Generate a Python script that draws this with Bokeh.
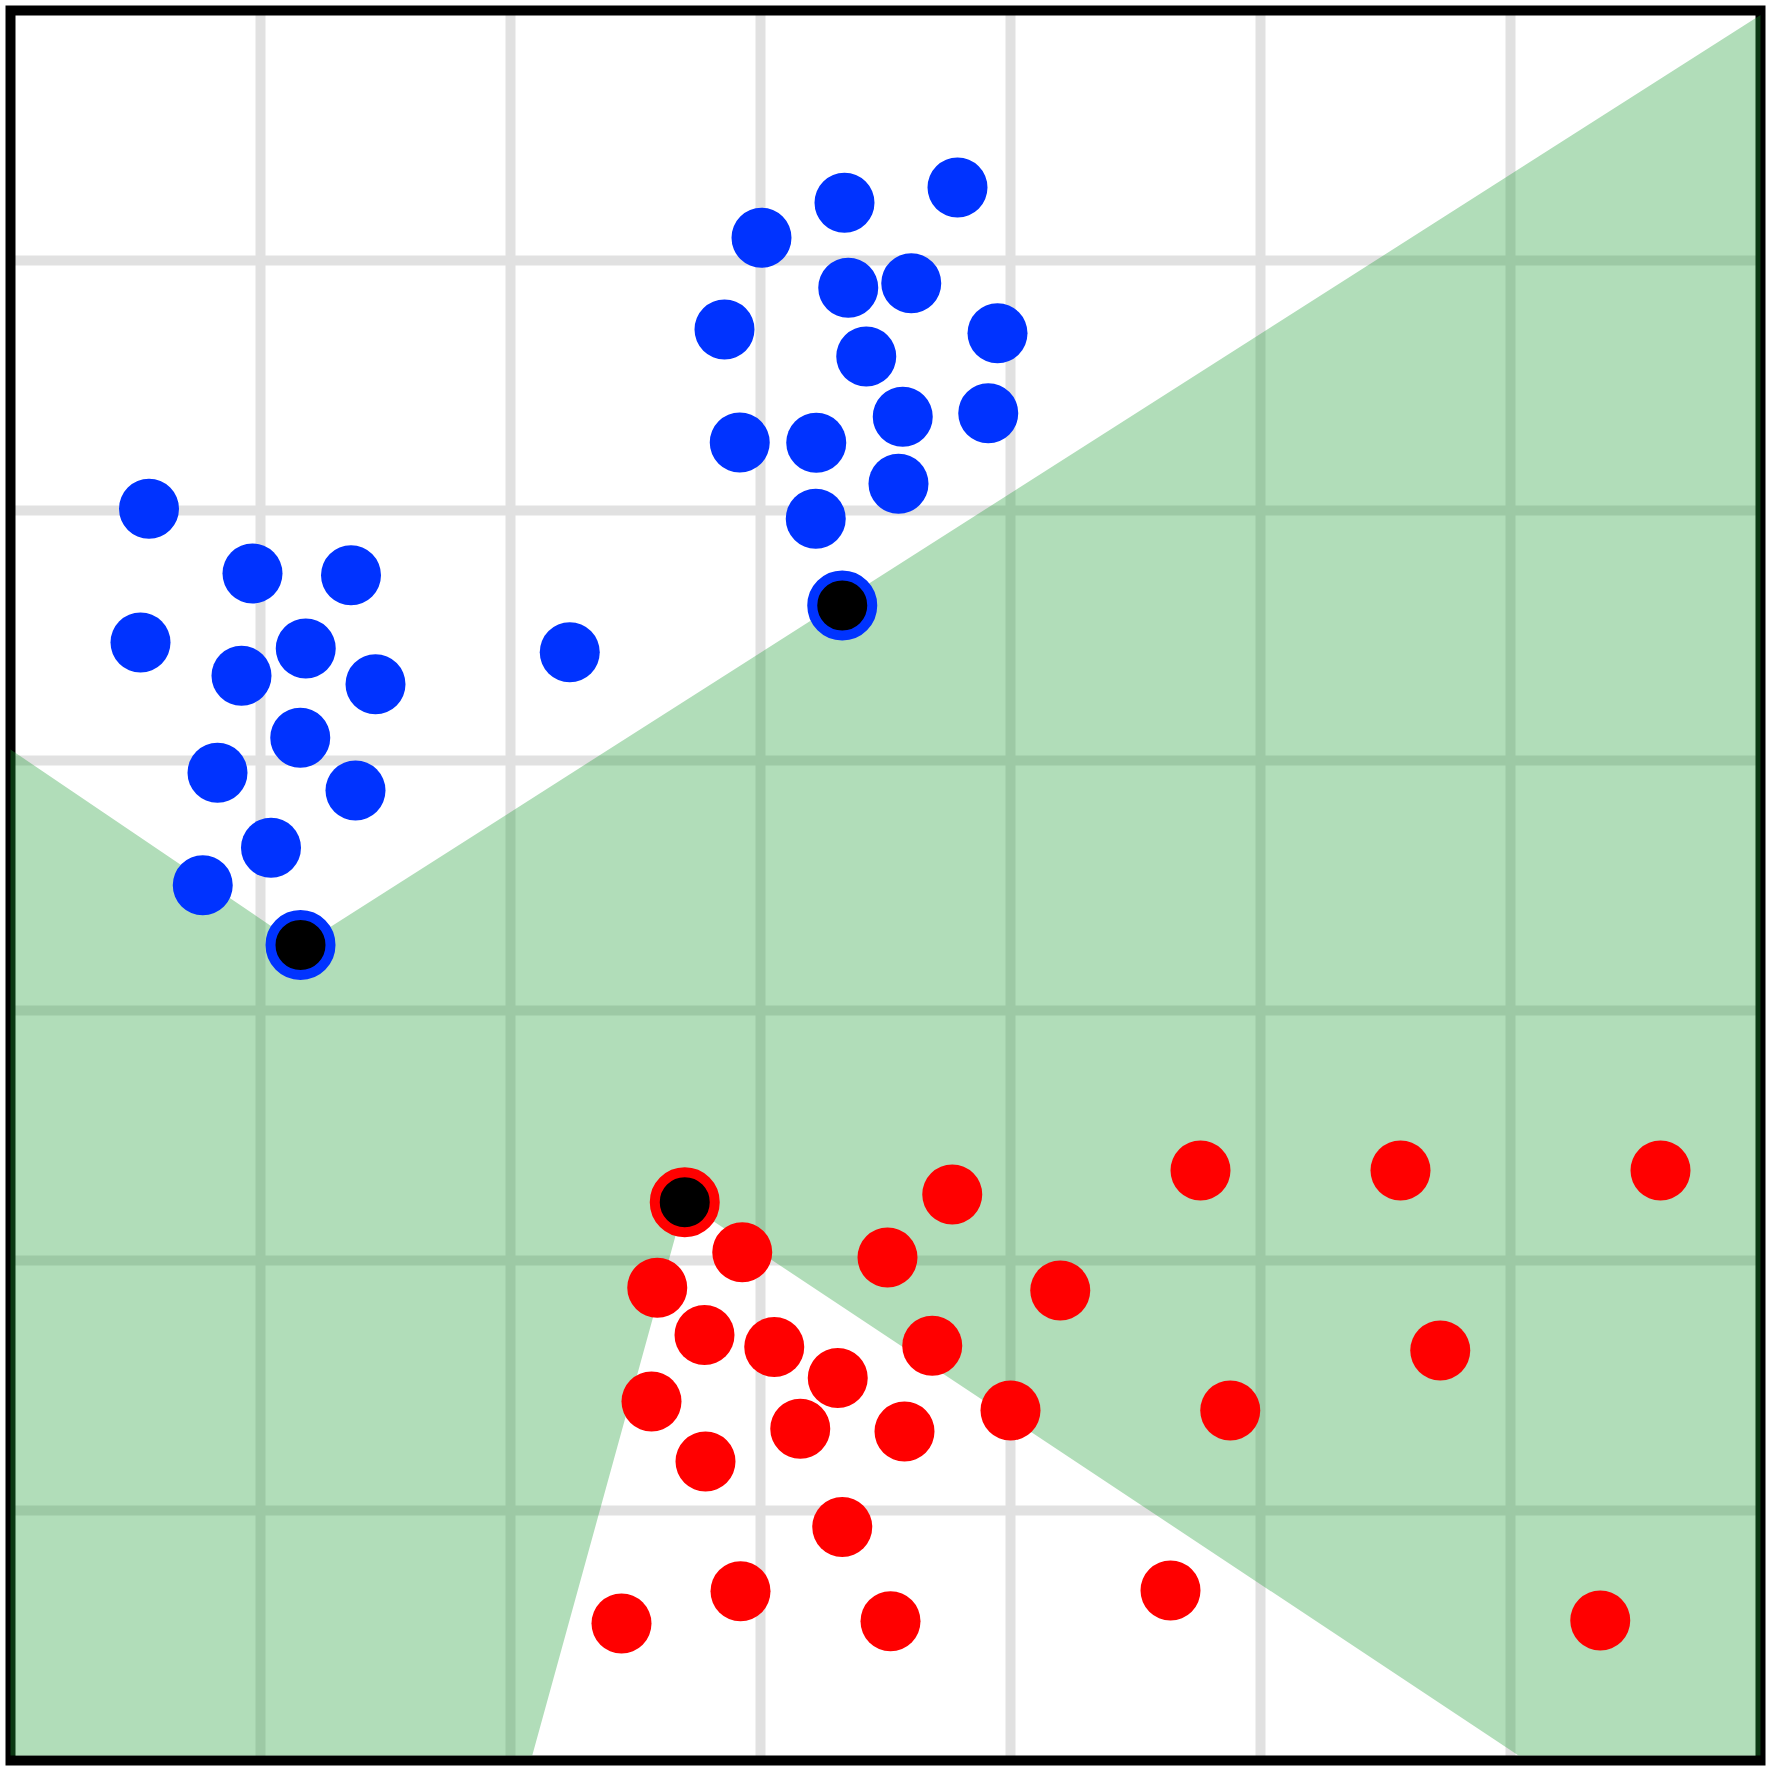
from bokeh.plotting import figure
from bokeh.models import Range1d
from bokeh.embed import file_html
from bokeh.resources import INLINE

# ---- data ----
blue_x = [3.004, 3.336, 3.788, 3.351, 3.603, 2.856, 3.948, 3.423, 3.569, 3.911,
          2.917, 3.223, 3.552, 3.221,
          0.554, 0.968, 1.362, 0.520, 1.181, 0.924, 1.460, 1.159, 0.828, 1.380,
          1.042, 0.769, 2.237]
blue_y = [6.091, 6.231, 6.292, 5.891, 5.909, 5.724, 5.709, 5.616, 5.375, 5.389,
          5.272, 5.271, 5.107, 4.967,
          5.007, 4.748, 4.741, 4.472, 4.448, 4.339, 4.305, 4.091, 3.951, 3.880,
          3.651, 3.501, 4.433]

red_x = [3.767, 4.760, 5.560, 6.600, 2.927, 3.508, 2.587, 4.199, 2.776, 3.055,
         3.687, 3.309, 5.719, 2.564, 4.000, 4.879, 3.159, 3.576, 2.780, 3.327,
         2.920, 4.640, 2.444, 3.520, 6.359]
red_y = [2.264, 2.360, 2.360, 2.360, 2.033, 2.012, 1.891, 1.880, 1.702, 1.654,
         1.659, 1.530, 1.640, 1.436, 1.400, 1.400, 1.327, 1.316, 1.196, 0.934,
         0.677, 0.680, 0.548, 0.557, 0.560]

sv_blue_x = [1.160, 3.327]
sv_blue_y = [3.262, 4.620]
sv_red_x = [2.697]
sv_red_y = [2.233]

# shaded region (green) outline
region_x = [7.0, 1.160, 0.0, 0.0, 2.087, 2.697, 6.032, 7.0]
region_y = [6.982, 3.258, 4.044, 0.02, 0.02, 2.233, 0.02, 0.02]

grid_ticks = [1, 2, 3, 4, 5, 6]
x_lo, x_hi = 0.0, 7.0
y_lo, y_hi = 0.0, 7.0

pad = 0.04
p = figure(width=1770, height=1770, output_backend="svg", toolbar_location=None,
           x_range=Range1d(x_lo - pad, x_hi + pad), y_range=Range1d(y_lo - pad, y_hi + pad),
           x_axis_location=None, y_axis_location=None,
           min_border_left=0, min_border_right=0, min_border_top=0, min_border_bottom=0,
           background_fill_color="white", border_fill_color="white")
p.outline_line_color = None
p.xgrid.visible = False
p.ygrid.visible = False

grid_color = "#e1e1e1"
n = len(grid_ticks)
# vertical grid lines
p.segment(x0=grid_ticks, y0=[y_lo] * n, x1=grid_ticks, y1=[y_hi] * n,
          line_color=grid_color, line_width=10)
# horizontal grid lines
p.segment(x0=[x_lo] * n, y0=grid_ticks, x1=[x_hi] * n, y1=grid_ticks,
          line_color=grid_color, line_width=10)

# frame border
p.quad(left=[x_lo], right=[x_hi], bottom=[y_lo], top=[y_hi],
       fill_color=None, line_color="black", line_width=10, line_join="miter")

# shaded region
p.patch(region_x, region_y, fill_color="#209e37", fill_alpha=0.35, line_color=None)

# points
p.scatter(blue_x, blue_y, size=60, fill_color="#0033ff", line_color=None)
p.scatter(red_x, red_y, size=60, fill_color="#ff0000", line_color=None)
p.scatter(sv_blue_x, sv_blue_y, size=60, fill_color="black", line_color="#0033ff", line_width=10)
p.scatter(sv_red_x, sv_red_y, size=60, fill_color="black", line_color="#ff0000", line_width=10)

open("out.html", "w").write(file_html(p, INLINE))
